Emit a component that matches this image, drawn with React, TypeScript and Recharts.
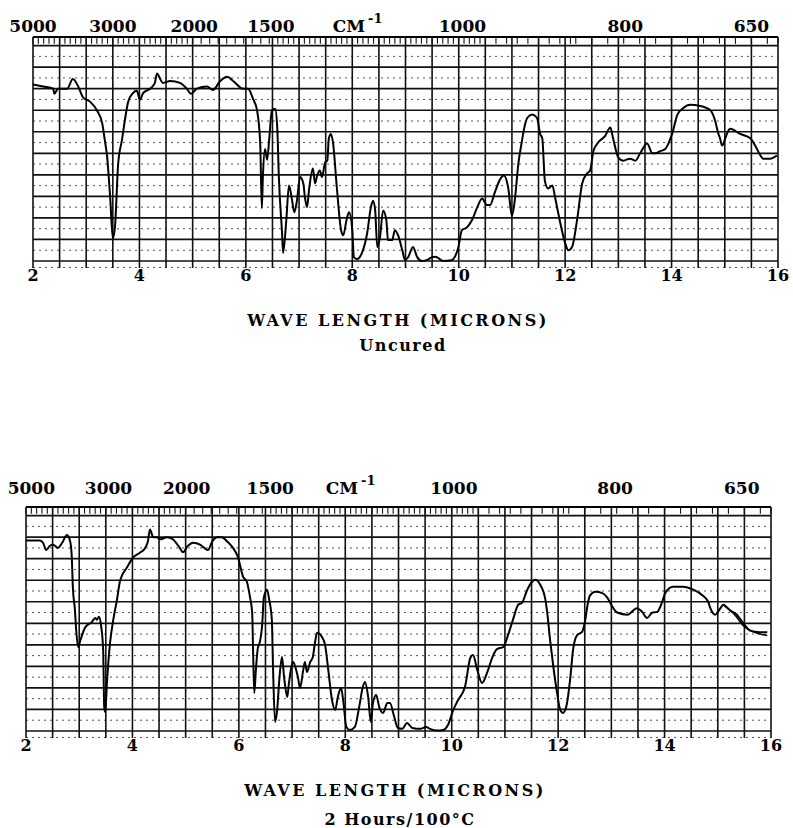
import React from 'react';
import { LineChart, Line, XAxis, YAxis, ReferenceLine } from 'recharts';

// ---------- DATA ----------
const uncuredWavelength = [
  2.0, 2.19, 2.38, 2.4, 2.47, 2.64, 2.75, 2.85, 2.94, 3.07,
  3.2, 3.3, 3.35, 3.39, 3.45, 3.5, 3.54, 3.6, 3.67, 3.79,
  3.88, 3.95, 4.01, 4.07, 4.2, 4.29, 4.33, 4.39, 4.44, 4.58,
  4.76, 4.89, 4.97, 5.08, 5.27, 5.38, 5.52, 5.65, 5.76, 5.95,
  6.04, 6.14, 6.21, 6.27, 6.3, 6.32, 6.36, 6.4, 6.44, 6.49,
  6.55, 6.59, 6.62, 6.68, 6.7, 6.76, 6.81, 6.87, 6.91, 6.96,
  7.02, 7.08, 7.11, 7.15, 7.19, 7.26, 7.3, 7.34, 7.39, 7.43,
  7.49, 7.53, 7.56, 7.6, 7.64, 7.71, 7.79, 7.83, 7.9, 7.94,
  8.0, 8.03, 8.09, 8.18, 8.28, 8.35, 8.39, 8.43, 8.47, 8.52,
  8.58, 8.64, 8.67, 8.75, 8.8, 8.86, 8.94, 8.99, 9.05, 9.14,
  9.22, 9.31, 9.41, 9.5, 9.56, 9.71, 9.86, 9.99, 10.06, 10.16,
  10.25, 10.35, 10.44, 10.53, 10.59, 10.68, 10.78, 10.85, 10.93, 11.0,
  11.06, 11.12, 11.19, 11.21, 11.29, 11.38, 11.47, 11.53, 11.57, 11.62,
  11.68, 11.76, 11.81, 11.91, 12.0, 12.06, 12.13, 12.23, 12.32, 12.41,
  12.47, 12.53, 12.62, 12.75, 12.85, 12.9, 13.0, 13.09, 13.22, 13.32,
  13.41, 13.54, 13.64, 13.69, 13.79, 13.88, 13.94, 14.01, 14.11, 14.22,
  14.35, 14.54, 14.73, 14.82, 14.88, 14.91, 14.95, 15.01, 15.05, 15.1,
  15.29, 15.48, 15.57, 15.67, 15.72, 15.85, 15.98,
];
const uncuredTransmittance = [
  82, 81, 80, 77.6, 80, 80, 84.5, 81, 76, 74,
  70, 64, 56, 49, 29.6, 10.6, 15.7, 45, 56, 74,
  78, 79, 75, 78, 80, 82.7, 87, 84.5, 82.7, 83.6,
  82.7, 80, 77.6, 80, 81, 79.4, 83.6, 85.5, 83.6, 80,
  80, 75, 70, 54.5, 24.5, 39, 52, 47, 57, 70,
  70.7, 62, 39, 13, 3.7, 19, 35, 28, 22.6, 28,
  39, 36, 29.6, 25, 33.7, 43, 36, 39.7, 42, 39,
  45.7, 46.6, 57, 59, 54.5, 34, 14.3, 12, 20, 22.6,
  14.3, 1.8, 0.9, 3.7, 13, 25, 28, 23.5, 6.5, 11,
  23.5, 19, 9.7, 9.7, 14.3, 12, 5, 0.5, 1.8, 6.5,
  1.8, 0, 0.5, 1.8, 2, 0, 0.3, 6, 14.3, 15.7,
  19, 25, 29, 26, 26, 32, 38, 39.7, 34, 21,
  29.6, 45, 56, 59, 66.5, 68, 66.5, 59, 57, 37,
  33.7, 35, 29.6, 17.5, 8.3, 5, 6.5, 20, 36, 40.6,
  42, 51, 55, 58, 62, 57, 48, 46.6, 47.5, 46.6,
  50, 54.5, 50, 50, 51, 52, 54.5, 59, 68, 71,
  72.5, 72, 70, 65, 59, 57, 53.6, 57, 59.6, 61.4,
  59, 57, 53.6, 49, 47.5, 47.5, 49,
];

const curedWavelength = [
  2.0, 2.26, 2.32, 2.38, 2.45, 2.51, 2.6, 2.68, 2.77, 2.83,
  2.86, 2.88, 2.92, 2.94, 2.98, 3.02, 3.11, 3.24, 3.3, 3.33,
  3.37, 3.41, 3.45, 3.47, 3.49, 3.52, 3.58, 3.64, 3.71, 3.77,
  3.9, 4.01, 4.14, 4.24, 4.29, 4.33, 4.39, 4.46, 4.52, 4.65,
  4.76, 4.89, 4.95, 5.03, 5.14, 5.27, 5.35, 5.42, 5.5, 5.59,
  5.68, 5.78, 5.89, 5.98, 6.08, 6.15, 6.21, 6.25, 6.27, 6.29,
  6.32, 6.36, 6.38, 6.44, 6.47, 6.53, 6.57, 6.62, 6.64, 6.68,
  6.72, 6.76, 6.81, 6.85, 6.91, 6.94, 7.02, 7.06, 7.11, 7.15,
  7.21, 7.24, 7.28, 7.34, 7.39, 7.43, 7.47, 7.56, 7.62, 7.68,
  7.75, 7.81, 7.86, 7.92, 7.96, 8.02, 8.09, 8.18, 8.26, 8.33,
  8.37, 8.43, 8.48, 8.52, 8.58, 8.64, 8.71, 8.79, 8.84, 8.92,
  8.99, 9.07, 9.16, 9.26, 9.41, 9.52, 9.59, 9.73, 9.84, 9.93,
  10.03, 10.12, 10.25, 10.35, 10.4, 10.48, 10.57, 10.67, 10.76, 10.85,
  10.97, 11.06, 11.15, 11.25, 11.32, 11.42, 11.51, 11.57, 11.66, 11.76,
  11.79, 11.85, 11.91, 11.98, 12.04, 12.09, 12.15, 12.23, 12.28, 12.36,
  12.45, 12.51, 12.56, 12.6, 12.7, 12.83, 12.92, 12.98, 13.02, 13.11,
  13.3, 13.48, 13.58, 13.67, 13.77, 13.86, 13.92, 13.97, 14.01, 14.16,
  14.35, 14.54, 14.71, 14.82, 14.86, 14.95, 15.05, 15.1, 15.23, 15.36,
  15.48, 15.61, 15.74, 15.93,
];
const curedTransmittance = [
  88.5, 88.5, 87.4, 84, 86, 86.5, 85, 87.4, 91, 88,
  81, 67, 56, 48, 39, 42, 48, 50.7, 52.5, 51.6,
  53, 49, 37.7, 11, 8.8, 22, 41, 51.6, 61, 70,
  76, 80.5, 82.8, 85, 88, 93.5, 90, 90, 89, 90,
  89, 85, 83, 85.6, 87.4, 86.5, 85, 84, 88, 90,
  90, 88, 85, 81, 71.6, 69.3, 62, 55, 34.4, 17.7,
  28.4, 39, 40, 50, 62, 65.6, 61, 51.6, 31.6, 4.2,
  9.8, 23.7, 34.4, 25, 15.8, 22, 32, 29.8, 25, 20,
  28.4, 32, 27.4, 32, 34.4, 41, 45.6, 43.7, 40, 28.4,
  14.4, 9.8, 15.8, 20, 14.4, 1.9, 0.5, 1.9, 11, 20.5,
  22.8, 15.8, 4.2, 13, 16.7, 11, 8.4, 13, 13, 6.5,
  1.4, 1, 3.7, 1.4, 1, 1.9, 1, 0.2, 0.5, 2.8,
  9.8, 14.4, 20.5, 34, 35.3, 28.4, 22.3, 27.4, 34, 38,
  39, 44.6, 51.6, 58.6, 59.5, 65.6, 69.3, 70.2, 68, 61,
  56, 42, 29.8, 17.7, 9.8, 8.4, 11, 25, 37.7, 44.6,
  46, 51.6, 59.5, 63, 64.6, 64, 62, 59.5, 57.7, 55,
  54, 57, 55.3, 52.5, 55, 55.3, 57.7, 61, 64, 67,
  67, 65.6, 63, 60, 57, 54, 57, 58.6, 56, 54,
  50, 46.6, 46, 45.8,
];
// second (repeat) trace visible at the long-wavelength end of the cured spectrum
const curedRepeatWavelength = [15.1, 15.3, 15.5, 15.67, 15.93];
const curedRepeatTransmittance = [58.6, 54.5, 48.4, 46, 44.3];

const micronTicks = [2, 4, 6, 8, 10, 12, 14, 16];
const micronGrid = [2, 2.5, 3, 3.5, 4, 4.5, 5, 5.5, 6, 6.5, 7, 7.5, 8, 8.5, 9, 9.5, 10, 10.5, 11, 11.5, 12, 12.5, 13, 13.5, 14, 14.5, 15, 15.5, 16];
const percentGrid = [0, 10, 20, 30, 40, 50, 60, 70, 80, 90, 100];
const percentDotted = [-3, 5, 15, 25, 35, 45, 55, 65, 75, 85, 95];
const wavenumberLabels = ['5000', '3000', '2000', '1500', 'CM-1', '1000', '800', '650'];
const uncuredLabelAt = [2.0, 3.5, 5.03, 6.47, 8.1, 10.07, 13.13, 15.5];
const curedLabelAt = [2.1, 3.55, 5.02, 6.59, 8.1, 10.04, 13.07, 15.45];
// the printed wavenumber strip: [from, to, spacing] in microns
const stripRuns: number[][] = [[2.0, 5.0, 0.1], [5.0, 6.6, 0.16], [6.6, 10.5, 0.1], [10.5, 12.2, 0.2], [12.2, 16.0, 0.3]];

const stripTicks: number[] = [];
stripRuns.forEach(([a, b, s]) => {
  for (let v = a; v < b - 1e-6; v += s) stripTicks.push(Math.round(v * 1000) / 1000);
});
stripTicks.push(16);

const FONT = "'DejaVu Serif', 'Liberation Serif', serif";
const TOP = 104;

function Spectrum(props: {
  wl: number[]; tr: number[]; repeatWl?: number[]; repeatTr?: number[];
  labelAt: number[]; left: number; right: number; labelGap: number;
}) {
  const { wl, tr, repeatWl, repeatTr, labelAt, left, right, labelGap } = props;
  const data = wl.map((x, i) => ({ x, t: tr[i] }));
  const repeat = repeatWl ? repeatWl.map((x, i) => ({ x, t: repeatTr![i] })) : null;

  const renderLabel = (text: string) => (p: any) => {
    const vb = p.viewBox || {};
    const x = vb.x ?? 0;
    const y = (vb.y ?? 0) - labelGap;
    if (text === 'CM-1') {
      return (
        <text x={x} y={y} textAnchor="middle" fontFamily={FONT} fontWeight="bold" fontSize={17} fill="#000">
          <tspan>CM</tspan>
          <tspan dy={-9} dx={3} fontSize={13}>-1</tspan>
        </text>
      );
    }
    return (
      <text x={x} y={y} textAnchor="middle" fontFamily={FONT} fontWeight="bold" fontSize={17} fill="#000">
        {text}
      </text>
    );
  };

  return (
    <LineChart width={793} height={300} data={data} margin={{ top: 37, right, bottom: 2, left }}>
      <XAxis xAxisId="b" dataKey="x" type="number" domain={[2, 16]} allowDataOverflow ticks={micronTicks} interval={0}
        orientation="bottom" height={30} axisLine={false} tickLine={false} tickSize={0} tickMargin={2}
        tick={{ fontFamily: FONT, fontWeight: 'bold', fontSize: 16, fill: '#000' }} />
      <YAxis type="number" domain={[-3.25, TOP]} allowDataOverflow hide />
      {percentDotted.map((v) => (
        <ReferenceLine key={'d' + v} xAxisId="b" y={v} stroke="#555" strokeWidth={1} strokeDasharray="2 4" />
      ))}
      {percentGrid.map((v) => (
        <ReferenceLine key={'h' + v} xAxisId="b" y={v} stroke="#111" strokeWidth={1.7} />
      ))}
      {micronGrid.map((v) => (
        <ReferenceLine key={'v' + v} xAxisId="b" x={v} stroke="#111" strokeWidth={1.6} />
      ))}
      <ReferenceLine xAxisId="b" y={TOP} stroke="#000" strokeWidth={2.2} />
      {stripTicks.map((v) => (
        <ReferenceLine key={'s' + v} xAxisId="b" stroke="#111" strokeWidth={1.1}
          segment={[{ x: v, y: TOP }, { x: v, y: TOP - 3.1 }]} />
      ))}
      {labelAt.map((v, i) => (
        <ReferenceLine key={'l' + v} xAxisId="b" stroke="none"
          segment={[{ x: v, y: TOP }, { x: v, y: TOP - 0.01 }]}
          label={renderLabel(wavenumberLabels[i])} />
      ))}
      <Line xAxisId="b" type="monotone" dataKey="t" stroke="#000" strokeWidth={2} dot={false} isAnimationActive={false} />
      {repeat && (
        <Line xAxisId="b" data={repeat} type="monotone" dataKey="t" stroke="#000" strokeWidth={1.5} dot={false} isAnimationActive={false} />
      )}
    </LineChart>
  );
}

export default function App() {
  return (
    <div style={{ position: 'absolute', left: 0, top: 0, width: 793, height: 828, background: '#fff' }}>
      <div style={{ position: 'absolute', left: 0, top: 0 }}>
        <Spectrum wl={uncuredWavelength} tr={uncuredTransmittance} labelAt={uncuredLabelAt} left={33} right={15} labelGap={5} />
      </div>
      <div style={{ position: 'absolute', left: 0, top: 470 }}>
        <Spectrum wl={curedWavelength} tr={curedTransmittance} repeatWl={curedRepeatWavelength} repeatTr={curedRepeatTransmittance}
          labelAt={curedLabelAt} left={26} right={22} labelGap={13} />
      </div>
      <svg width={793} height={828} style={{ position: 'absolute', left: 0, top: 0, pointerEvents: 'none' }}>
        <g fontFamily={FONT} fontWeight="bold" fontSize={16} fill="#000" textAnchor="middle">
          <text x={398} y={326} letterSpacing={2.5}>WAVE LENGTH (MICRONS)</text>
          <text x={403} y={351} letterSpacing={1.5}>Uncured</text>
          <text x={395} y={796} letterSpacing={2.5}>WAVE LENGTH (MICRONS)</text>
          <text x={400} y={825} letterSpacing={1.5}>2 Hours/100°C</text>
        </g>
      </svg>
    </div>
  );
}
